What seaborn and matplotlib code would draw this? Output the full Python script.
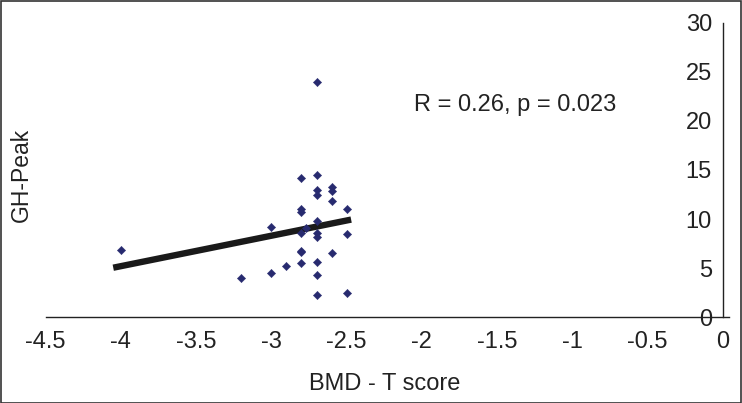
import matplotlib
matplotlib.use("Agg")
import matplotlib.pyplot as plt
import seaborn as sns
import pandas as pd
from matplotlib.patches import Rectangle

# Data
bmd_t = [-4.0, -3.2, -3.0, -3.0, -2.9, -2.8, -2.8, -2.8, -2.8, -2.77, -2.8, -2.8, -2.8,
         -2.7, -2.7, -2.7, -2.7, -2.7, -2.7, -2.7, -2.7, -2.7, -2.7,
         -2.6, -2.6, -2.6, -2.6, -2.5, -2.5, -2.5]
gh_peak = [6.9, 4.0, 9.2, 4.5, 5.2, 14.2, 11.0, 10.7, 8.6, 9.1, 6.8, 6.6, 5.5,
           24.0, 14.5, 13.0, 12.5, 9.8, 8.6, 8.2, 5.6, 4.3, 2.3,
           13.3, 12.9, 11.8, 6.5, 11.0, 8.5, 2.5]
trend_x = [-4.05, -2.47]
trend_y = [5.05, 9.95]
x_ticks = [-4.5, -4, -3.5, -3, -2.5, -2, -1.5, -1, -0.5, 0]
x_tick_labels = ["-4.5", "-4", "-3.5", "-3", "-2.5", "-2", "-1.5", "-1", "-0.5", "0"]
y_ticks = [0, 5, 10, 15, 20, 25, 30]
y_tick_labels = ["0", "5", "10", "15", "20", "25", "30"]
x_title = "BMD - T score"
y_title = "GH-Peak"
annotation = "R = 0.26, p = 0.023"

df = pd.DataFrame({"BMD": bmd_t, "GH": gh_peak})
trend = pd.DataFrame({"x": trend_x, "y": trend_y})

sns.set_style("white")
plt.rcParams["font.family"] = ["Liberation Sans", "DejaVu Sans"]

fig = plt.figure(figsize=(7.42, 4.03), dpi=100)
W, H = 742, 403
left_px, right_px, top_px, bottom_px = 45.5, 729, 22.7, 317.3
ax = fig.add_axes([left_px / W, 1 - bottom_px / H, (right_px - left_px) / W, (bottom_px - top_px) / H])

sns.lineplot(data=trend, x="x", y="y", ax=ax, color="#1a1a1a", linewidth=4.6,
             solid_capstyle="butt", zorder=2)
sns.scatterplot(data=df, x="BMD", y="GH", ax=ax, marker="D", s=18, color="#272a6f",
                edgecolor="#272a6f", linewidth=0.3, zorder=3)

x0, x1 = -4.5, 0.0 + (right_px - 723) / 150.6
ax.set_xlim(x0, x1)
ax.set_ylim(0, 30)

for s in ["top", "right"]:
    ax.spines[s].set_visible(False)
ax.spines["left"].set_position(("data", 0))
ax.spines["left"].set_bounds(0, 30)
ax.spines["bottom"].set_position(("data", 0))
for s in ["left", "bottom"]:
    ax.spines[s].set_color("#222222")
    ax.spines[s].set_linewidth(1.0)
    ax.spines[s].set_zorder(1)

ax.set_xticks(x_ticks)
ax.set_xticklabels(x_tick_labels)
ax.set_yticks(y_ticks)
ax.set_yticklabels(y_tick_labels)
ax.tick_params(axis="both", direction="inout", length=10, width=1.0, color="#222222",
               labelsize=17, labelcolor="#222222")
ax.tick_params(axis="x", pad=5)
ax.tick_params(axis="y", pad=3)

ax.set_xlabel("")
ax.set_ylabel("")
fig.text(385 / W, 1 - 390.5 / H, x_title, fontsize=17, color="#222222",
         ha="center", va="baseline")
fig.text(21 / W, 1 - 175 / H, y_title, rotation=90, fontsize=16.5, color="#222222",
         ha="center", va="center")
fig.text(414 / W, 1 - 111.5 / H, annotation, fontsize=17, color="#222222",
         ha="left", va="baseline")
ax.grid(False)

fig.patches.append(Rectangle((0.5 / W, 0.5 / H), 1 - 1.5 / W, 1 - 1.5 / H, transform=fig.transFigure,
                             fill=False, edgecolor="#333333", linewidth=1.2))

fig.savefig("out.png", dpi=100)
